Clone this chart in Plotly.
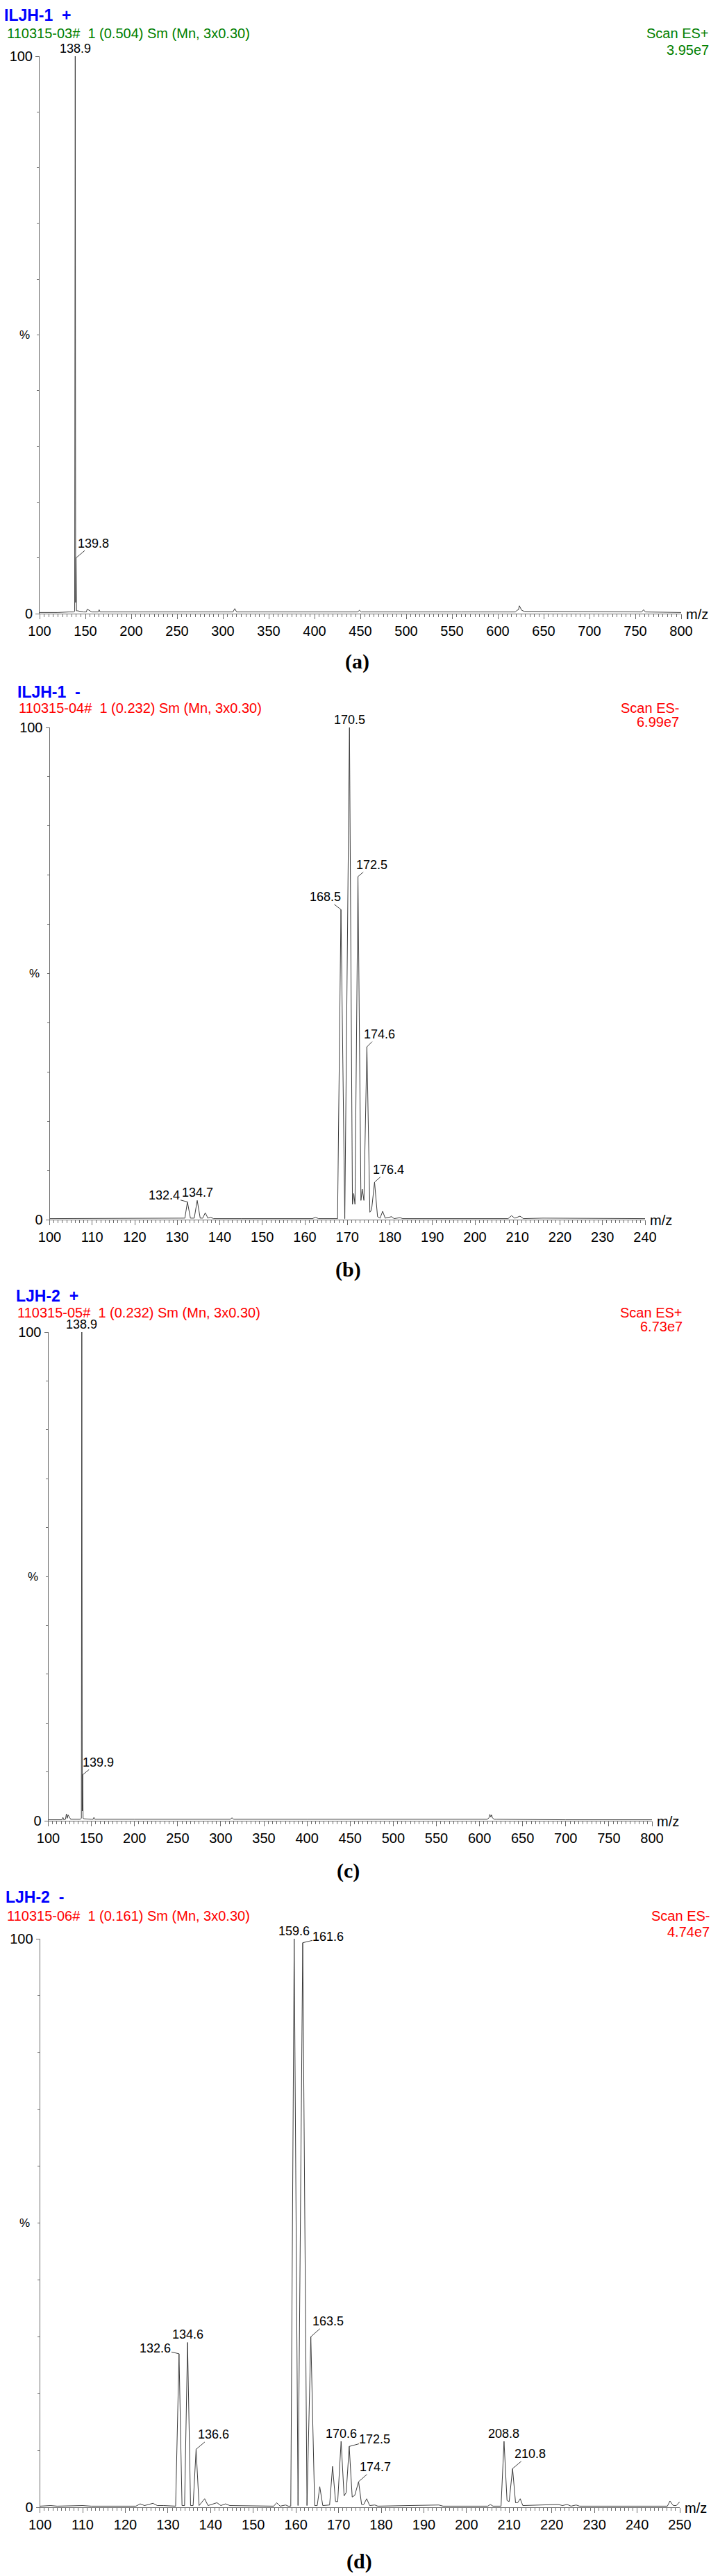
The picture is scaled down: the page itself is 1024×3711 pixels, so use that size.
import plotly.graph_objects as go

W, H = 1024, 3711

# ---- spectrum (a): ILJH-1, ES+ ----
a_mz = [100, 120, 132, 137, 138.3, 138.9, 139.35, 139.8, 140.3, 141.5,
        148, 151, 152, 157, 164, 165, 166, 200, 250, 311,
        313, 315, 400, 447, 449, 451, 560, 619, 621, 622.5,
        623.5, 624.5, 626, 629, 700, 757, 759, 761, 800]
a_int = [0.2, 0.2, 0.3, 0.3, 0.4, 100, 2, 10, 0.5, 0.5,
         0.3, 0.3, 0.8, 0.3, 0.3, 0.7, 0.3, 0.3, 0.3, 0.3,
         0.9, 0.3, 0.3, 0.3, 0.6, 0.3, 0.3, 0.3, 0.6, 0.7,
         1.4, 1.0, 0.6, 0.4, 0.3, 0.3, 0.7, 0.3, 0.2]
a_lab_mz = [138.9, 139.8]
a_lab_int = [100, 10]

# ---- spectrum (b): ILJH-1, ES- ----
b_mz = [100, 110, 120, 128, 131, 131.8, 132.4, 133.1, 134.0, 134.7,
        135.4, 136.0, 136.6, 137.2, 137.9, 138.5, 145, 155, 161.8, 162.5,
        163.2, 167.7, 168.5, 169.4, 170.5, 171.2, 171.5, 171.8, 172.5, 173.2,
        173.5, 173.9, 174.6, 175.3, 175.7, 176.4, 177.1, 177.7, 178.3, 178.9,
        180.4, 181, 182.4, 183, 190, 200, 207.8, 208.6, 209.4, 210.6,
        211.4, 216, 218.5, 225, 240]
b_int = [0.2, 0.2, 0.2, 0.2, 0.3, 0.3, 3.6, 0.3, 0.3, 3.9,
         0.3, 0.3, 1.4, 0.3, 0.5, 0.2, 0.2, 0.2, 0.2, 0.5,
         0.2, 0.2, 63, 0.2, 100, 3.1, 5.3, 3.1, 69.7, 3.9,
         6.2, 3.9, 35.1, 1.5, 2.0, 7.6, 0.6, 0.3, 1.7, 0.3,
         0.6, 0.2, 0.4, 0.2, 0.2, 0.2, 0.2, 0.8, 0.3, 0.7,
         0.2, 0.3, 0.3, 0.2, 0.2]
b_lab_mz = [170.5, 172.5, 168.5, 174.6, 176.4, 132.4, 134.7]
b_lab_int = [100, 69.7, 63, 35.1, 7.6, 3.6, 3.9]

# ---- spectrum (c): LJH-2, ES+ ----
c_mz = [100, 112, 116, 117, 118, 120, 121, 122, 123, 126,
        137, 138.4, 138.9, 139.4, 139.9, 140.4, 141.5, 150, 152, 153,
        154, 200, 240, 311, 313, 315, 400, 500, 605, 609,
        611, 612, 613, 614, 615, 617, 620, 700, 800]
c_int = [0.2, 0.2, 0.2, 0.7, 0.2, 0.3, 1.4, 0.5, 1.2, 0.3,
         0.3, 0.5, 100, 2, 9.4, 0.5, 0.4, 0.3, 0.3, 0.7,
         0.3, 0.3, 0.3, 0.3, 0.6, 0.3, 0.3, 0.3, 0.3, 0.3,
         0.6, 1.3, 0.8, 1.2, 0.6, 0.3, 0.3, 0.2, 0.2]
c_lab_mz = [138.9, 139.9]
c_lab_int = [100, 9.4]

# ---- spectrum (d): LJH-2, ES- ----
d_mz = [100, 102.5, 104, 110, 112, 122.5, 123.5, 124.5, 125.5, 126.5,
        127.5, 129, 131.8, 132.6, 133.3, 133.9, 134.6, 135.3, 135.9, 136.6,
        137.3, 138.6, 139.4, 141.5, 142.4, 143.5, 144.5, 150, 154.8, 155.5,
        156.3, 157.6, 158.2, 158.8, 159.6, 160.5, 161.6, 162.6, 163.5, 164.4,
        165.0, 165.6, 166.3, 167.9, 168.6, 169.3, 169.8, 170.6, 171.3, 171.8,
        172.5, 173.2, 173.8, 174.7, 175.4, 175.9, 176.6, 177.3, 178.5, 179.2,
        193.5, 194.5, 205, 205.6, 206.2, 208.1, 208.8, 209.5, 210.0, 210.8,
        211.5, 212.0, 212.6, 213.2, 221.5, 222.5, 223.6, 224.5, 225.7, 226.5,
        232, 243, 247.1, 247.7, 248.5, 249.2, 249.9, 250]
d_int = [0.2, 0.3, 0.2, 0.3, 0.2, 0.2, 0.6, 0.3, 0.5, 0.7,
         0.3, 0.3, 0.2, 27, 0.3, 0.3, 29, 0.3, 0.3, 10.2,
         0.3, 1.5, 0.3, 0.8, 0.3, 0.6, 0.3, 0.2, 0.2, 0.8,
         0.2, 0.4, 0.2, 0.2, 100, 0.3, 99.3, 0.3, 30, 0.3,
         0.3, 3.6, 0.3, 0.4, 7.2, 1.0, 1.0, 11.6, 2.0, 2.6,
         10.7, 1.8, 2.1, 4.5, 0.5, 0.5, 1.5, 0.3, 0.4, 0.2,
         0.4, 0.2, 0.2, 0.5, 0.2, 0.2, 11.6, 1.2, 1.0, 6.8,
         0.8, 0.8, 1.5, 0.3, 0.5, 0.3, 0.5, 0.2, 0.4, 0.2,
         0.2, 0.2, 0.2, 1.1, 0.3, 0.3, 0.9, 0.8]
d_lab_mz = [159.6, 161.6, 163.5, 132.6, 134.6, 136.6, 170.6, 172.5, 174.7, 208.8, 210.8]
d_lab_int = [100, 99.3, 30, 27, 29, 10.2, 11.6, 10.7, 4.5, 11.6, 6.8]

# header texts
sample_names = ["ILJH-1\u00a0\u00a0+", "ILJH-1\u00a0\u00a0-", "LJH-2\u00a0\u00a0+", "LJH-2\u00a0\u00a0-"]
run_info = ["110315-03#\u00a0\u00a01 (0.504) Sm (Mn, 3x0.30)",
            "110315-04#\u00a0\u00a01 (0.232) Sm (Mn, 3x0.30)",
            "110315-05#\u00a0\u00a01 (0.232) Sm (Mn, 3x0.30)",
            "110315-06#\u00a0\u00a01 (0.161) Sm (Mn, 3x0.30)"]
scan_modes = ["Scan ES+", "Scan ES-", "Scan ES+", "Scan ES-"]
base_counts = ["3.95e7", "6.99e7", "6.73e7", "4.74e7"]
panel_tags = ["(a)", "(b)", "(c)", "(d)"]

# layout of each panel in page pixels, plus label offsets (ax, ay); None = label straight above
panels = [
    dict(mz=a_mz, rel=a_int, lab_mz=a_lab_mz, lab_int=a_lab_int, xr=[100, 800], major=50, minor=5,
         px=(57, 981), py=(81, 884), info_color="#008000",
         title_xy=(4, 22), info_xy=(8, 48), right_x=1023, scan_y=48, count_y=72, tag_xy=(514, 953),
         offs=[None, (25, -21)]),
    dict(mz=b_mz, rel=b_int, lab_mz=b_lab_mz, lab_int=b_lab_int, xr=[100, 240], major=10, minor=1,
         px=(71.5, 929), py=(1048, 1757), info_color="#ff0000",
         title_xy=(23, 997), info_xy=(25, 1020), right_x=980, scan_y=1020, count_y=1040, tag_xy=(501, 1829),
         offs=[None, (20, -17), (-23, -18), (18, -18), (20, -18), (-33, -9), None]),
    dict(mz=c_mz, rel=c_int, lab_mz=c_lab_mz, lab_int=c_lab_int, xr=[100, 800], major=50, minor=5,
         px=(69.5, 939), py=(1919, 2623), info_color="#ff0000",
         title_xy=(21, 1867), info_xy=(23, 1891), right_x=985, scan_y=1891, count_y=1911, tag_xy=(501, 2695),
         offs=[None, (22, -18)]),
    dict(mz=d_mz, rel=d_int, lab_mz=d_lab_mz, lab_int=d_lab_int, xr=[100, 250], major=10, minor=1,
         px=(57.6, 979), py=(2793, 3612), info_color="#ff0000",
         title_xy=(6, 2733), info_xy=(8, 2760), right_x=1024, scan_y=2760, count_y=2783, tag_xy=(517, 3690),
         offs=[None, (37, -9), (25, -22), (-34, -8), None, (25, -21), None, (37, -10), (24, -21), None, (25, -21)]),
]

SANS = "Liberation Sans, Arial, sans-serif"
SERIF = "Liberation Serif, Times New Roman, serif"
AXC = "#6a6a6a"


def fx(v):
    return v / W


def fy(v):
    return 1 - v / H


fig = go.Figure()
annotations = []
layout_axes = {}

for i, p in enumerate(panels, 1):
    sfx = "" if i == 1 else str(i)
    xa, ya = "x" + sfx, "y" + sfx

    fig.add_trace(go.Scatter(
        x=p["mz"], y=p["rel"], mode="lines",
        line=dict(color="#3c3c3c", width=1),
        xaxis=xa, yaxis=ya, showlegend=False, hoverinfo="skip",
    ))

    layout_axes["xaxis" + sfx] = dict(
        domain=[fx(p["px"][0]), fx(p["px"][1])], anchor=ya, range=p["xr"],
        tickmode="linear", tick0=100, dtick=p["major"],
        ticks="outside", ticklen=7, tickcolor=AXC, tickwidth=1,
        minor=dict(dtick=p["minor"], tick0=100, ticks="outside", ticklen=4, tickcolor=AXC, showgrid=False),
        showline=True, linecolor=AXC, linewidth=1,
        showgrid=False, zeroline=False, automargin=False,
        tickfont=dict(family=SANS, size=20, color="black"),
    )
    layout_axes["yaxis" + sfx] = dict(
        domain=[fy(p["py"][1]), fy(p["py"][0])], anchor=xa, range=[0, 100],
        tickmode="linear", tick0=0, dtick=100,
        ticks="outside", ticklen=5, tickcolor=AXC, tickwidth=1,
        minor=dict(dtick=10, tick0=0, ticks="outside", ticklen=3, tickcolor=AXC, showgrid=False),
        showline=True, linecolor=AXC, linewidth=1,
        showgrid=False, zeroline=False, automargin=False,
        tickfont=dict(family=SANS, size=20, color="black"),
    )

    # header lines
    annotations += [
        dict(text="<b>" + sample_names[i - 1] + "</b>", x=fx(p["title_xy"][0]), y=fy(p["title_xy"][1]),
             xanchor="left", yanchor="middle", font=dict(family=SANS, size=23, color="#0000ff")),
        dict(text=run_info[i - 1], x=fx(p["info_xy"][0]), y=fy(p["info_xy"][1]),
             xanchor="left", yanchor="middle", font=dict(family=SANS, size=20, color=p["info_color"])),
        dict(text=scan_modes[i - 1], x=fx(p["right_x"]), y=fy(p["scan_y"]),
             xanchor="right", yanchor="middle", font=dict(family=SANS, size=20, color=p["info_color"])),
        dict(text=base_counts[i - 1], x=fx(p["right_x"]), y=fy(p["count_y"]),
             xanchor="right", yanchor="middle", font=dict(family=SANS, size=20, color=p["info_color"])),
        dict(text="%", x=fx(p["px"][0] - 22), y=fy((p["py"][0] + p["py"][1]) / 2),
             xanchor="center", yanchor="middle", font=dict(family=SANS, size=17, color="black")),
        dict(text="m/z", x=fx(p["px"][1] + 5), y=fy(p["py"][1] + 1),
             xanchor="left", yanchor="middle", font=dict(family=SANS, size=20, color="black")),
        dict(text="<b>" + panel_tags[i - 1] + "</b>", x=fx(p["tag_xy"][0]), y=fy(p["tag_xy"][1]),
             xanchor="center", yanchor="middle", font=dict(family=SERIF, size=30, color="black")),
    ]
    for ann in annotations[-7:]:
        ann.update(xref="paper", yref="paper", showarrow=False)

    # peak labels
    for m, v, off in zip(p["lab_mz"], p["lab_int"], p["offs"]):
        lab = dict(text=f"{m:.1f}", x=m, y=v, xref=xa, yref=ya,
                   font=dict(family=SANS, size=18, color="black"))
        if off is None:
            lab.update(showarrow=False, yanchor="bottom", yshift=-1)
        else:
            lab.update(showarrow=True, arrowhead=0, arrowwidth=1, arrowcolor="#3c3c3c",
                       ax=off[0], ay=off[1], standoff=0, borderpad=0)
        annotations.append(lab)

fig.update_layout(
    template="none",
    width=W, height=H, autosize=False,
    margin=dict(l=0, r=0, t=0, b=0, pad=0, autoexpand=False),
    paper_bgcolor="white", plot_bgcolor="white",
    font=dict(family=SANS, color="black"),
    annotations=annotations,
    **layout_axes,
)

fig.write_html("out.html", config={"displayModeBar": False},
               post_script="document.body.style.margin='0';")
